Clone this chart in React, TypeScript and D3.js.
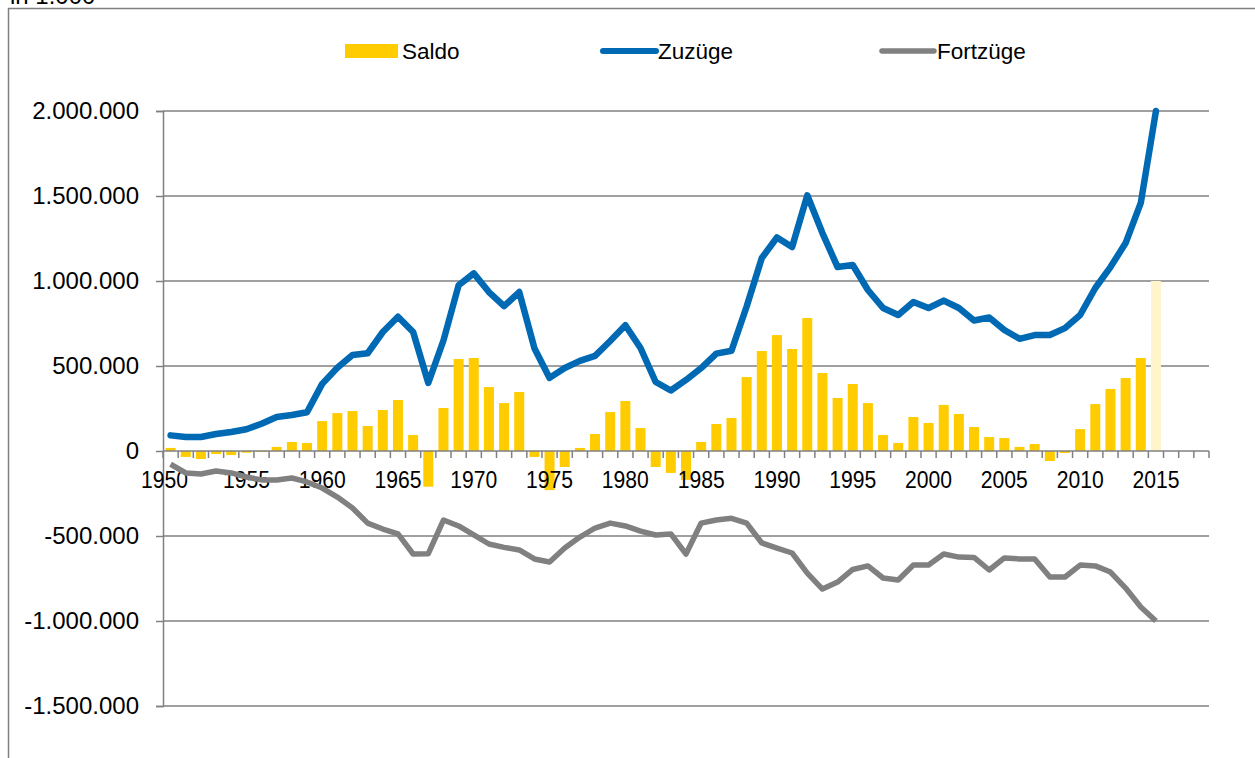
import React, { useEffect, useRef } from "react";
import * as d3 from "d3";

// Wanderungen über die Grenzen Deutschlands, 1950-2015 (Werte in Personen)
const years: number[] = d3.range(1950, 2019);

const saldo: number[] = [
  18000, -35000, -47000, -18000, -24000, -10000, -6000, 24000, 53000, 47000,
  176000, 223000, 235000, 147000, 241000, 300000, 94000, -210000, 253000, 541000,
  547000, 376000, 282000, 347000, -35000, -230000, -94000, 18000, 100000, 229000,
  294000, 135000, -94000, -129000, -170000, 53000, 159000, 194000, 435000, 588000,
  682000, 600000, 782000, 459000, 312000, 394000, 282000, 94000, 47000, 200000,
  165000, 271000, 218000, 141000, 82000, 76000, 24000, 41000, -59000, -12000,
  129000, 276000, 365000, 429000, 547000, 1000000,
];

const zuzuege: number[] = [
  92000, 82000, 82000, 100000, 112000, 128000, 160000, 200000, 212000, 228000,
  395000, 490000, 565000, 575000, 700000, 790000, 700000, 400000, 650000, 975000,
  1045000, 935000, 852000, 935000, 605000, 430000, 488000, 530000, 560000, 647000,
  740000, 606000, 406000, 356000, 418000, 488000, 573000, 590000, 850000, 1135000,
  1256000, 1200000, 1504000, 1282000, 1082000, 1094000, 947000, 841000, 800000, 876000,
  841000, 885000, 841000, 768000, 785000, 712000, 660000, 682000, 682000, 723000,
  800000, 959000, 1082000, 1223000, 1459000, 2000000,
];

const fortzuege: number[] = [
  -78000, -129000, -135000, -118000, -129000, -153000, -170000, -170000, -159000, -182000,
  -218000, -271000, -335000, -424000, -459000, -488000, -606000, -604000, -406000, -441000,
  -494000, -547000, -567000, -582000, -635000, -653000, -571000, -506000, -453000, -424000,
  -441000, -471000, -494000, -488000, -606000, -424000, -406000, -396000, -424000, -541000,
  -571000, -600000, -718000, -812000, -771000, -697000, -676000, -747000, -759000, -671000,
  -671000, -606000, -624000, -626000, -700000, -629000, -635000, -635000, -741000, -741000,
  -671000, -676000, -712000, -806000, -918000, -1000000,
];

const yTicks: number[] = [-1500000, -1000000, -500000, 0, 500000, 1000000, 1500000, 2000000];
const labelYears: number[] = d3.range(1950, 2016, 5);

const W = 1255;
const H = 758;
const left = 163;
const right = 1209;
const top = 111;
const bottom = 706;

const YELLOW = "#ffcc00";
const PALE = "#fff4cc";
const BLUE = "#0069b4";
const GRAY = "#808080";
const FONT = "'Liberation Sans', Arial, sans-serif";

const fmt = (v: number) =>
  (v < 0 ? "-" : "") + d3.format(",")(Math.abs(v)).replaceAll(",", ".");

function Chart() {
  const ref = useRef<SVGSVGElement>(null);

  useEffect(() => {
    const svg = d3.select(ref.current);
    svg.selectAll("*").remove();

    const x = d3.scaleBand<number>().domain(years).range([left, right]).paddingInner(0.34).paddingOuter(0.17);
    const xb = d3.scaleBand<number>().domain(years).range([left, right]);
    const y = d3.scaleLinear().domain([-1500000, 2000000]).range([bottom, top]);

    // chart frame and unit text (cut at the top, as in the source)
    svg.append("text").attr("x", 10).attr("y", 4).attr("font-family", FONT)
      .attr("font-size", 24).text("in 1.000");
    svg.append("line").attr("x1", 8).attr("x2", W).attr("y1", 8.5).attr("y2", 8.5)
      .attr("stroke", GRAY).attr("stroke-width", 1.5);
    svg.append("line").attr("x1", 8.5).attr("x2", 8.5).attr("y1", 8).attr("y2", H)
      .attr("stroke", GRAY).attr("stroke-width", 1.5);

    // gridlines
    svg.append("g").selectAll("line").data(yTicks.filter(d => d !== 0)).join("line")
      .attr("x1", left).attr("x2", right)
      .attr("y1", d => y(d)).attr("y2", d => y(d))
      .attr("stroke", GRAY).attr("stroke-width", 1.5);

    // y axis
    const yAxis = svg.append("g").attr("transform", `translate(${left},0)`)
      .call(d3.axisLeft(y).tickValues(yTicks).tickFormat(d => fmt(+d)).tickSize(7).tickPadding(17));
    yAxis.select(".domain").attr("stroke", GRAY).attr("stroke-width", 1.5);
    yAxis.selectAll(".tick line").attr("stroke", GRAY).attr("stroke-width", 1.5);
    yAxis.selectAll("text").attr("font-family", FONT).attr("font-size", 24).attr("fill", "#000");

    // bars
    svg.append("g").selectAll("rect").data(saldo).join("rect")
      .attr("x", (_, i) => x(years[i])!)
      .attr("width", x.bandwidth())
      .attr("y", d => y(Math.max(0, d)))
      .attr("height", d => Math.abs(y(d) - y(0)))
      .attr("fill", (_, i) => (years[i] === 2015 ? PALE : YELLOW));

    // x axis with ticks at band borders
    const zeroY = y(0);
    svg.append("line").attr("x1", left).attr("x2", right).attr("y1", zeroY).attr("y2", zeroY)
      .attr("stroke", GRAY).attr("stroke-width", 1.5);
    const borders = d3.range(years.length + 1).map(i => left + i * xb.step());
    svg.append("g").selectAll("line").data(borders).join("line")
      .attr("x1", d => d).attr("x2", d => d).attr("y1", zeroY).attr("y2", zeroY + 7)
      .attr("stroke", GRAY).attr("stroke-width", 1.5);
    svg.append("g").selectAll("text").data(labelYears).join("text")
      .attr("x", d => xb(d)! + xb.bandwidth() / 2 - (d === 1950 ? 6 : 0))
      .attr("y", zeroY + 37)
      .attr("text-anchor", "middle")
      .attr("font-family", FONT).attr("font-size", 24)
      .attr("textLength", 47).attr("lengthAdjust", "spacingAndGlyphs")
      .text(d => d);

    // lines
    const cx = (i: number) => xb(years[i])! + xb.bandwidth() / 2;
    const line = d3.line<number>().x((_, i) => cx(i)).y(d => y(d));
    svg.append("path").attr("d", line(fortzuege)).attr("fill", "none")
      .attr("stroke", GRAY).attr("stroke-width", 5.5).attr("stroke-linejoin", "round");
    svg.append("path").attr("d", line(zuzuege)).attr("fill", "none")
      .attr("stroke", BLUE).attr("stroke-width", 6.5).attr("stroke-linejoin", "round")
      .attr("stroke-linecap", "round");

    // legend
    const lg = svg.append("g").attr("font-family", FONT).attr("font-size", 22.5);
    lg.append("rect").attr("x", 345).attr("y", 44).attr("width", 53).attr("height", 14).attr("fill", YELLOW);
    lg.append("text").attr("x", 402).attr("y", 59).text("Saldo");
    lg.append("line").attr("x1", 603).attr("x2", 656).attr("y1", 51).attr("y2", 51)
      .attr("stroke", BLUE).attr("stroke-width", 6).attr("stroke-linecap", "round");
    lg.append("text").attr("x", 658).attr("y", 59).text("Zuzüge");
    lg.append("line").attr("x1", 882).attr("x2", 934).attr("y1", 51).attr("y2", 51)
      .attr("stroke", GRAY).attr("stroke-width", 5.5).attr("stroke-linecap", "round");
    lg.append("text").attr("x", 937).attr("y", 59).text("Fortzüge");
  }, []);

  return (
    <svg ref={ref} width={W} height={H}
      style={{ position: "absolute", left: 0, top: 0, background: "#fff" }} />
  );
}

export default function App() {
  return <Chart />;
}
